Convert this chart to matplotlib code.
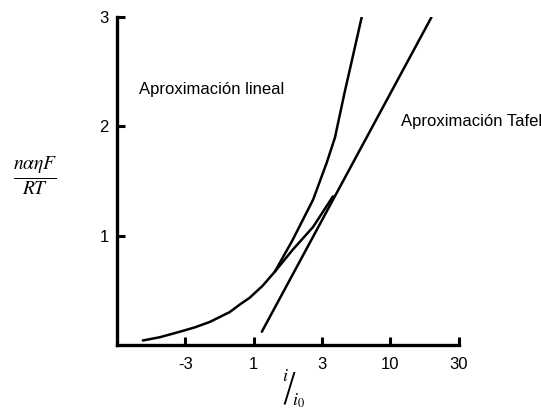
import numpy as np
import matplotlib.pyplot as plt
from matplotlib import rcParams

rcParams['font.family'] = 'Liberation Sans'
rcParams['mathtext.fontset'] = 'stix'

# x positions are the slots of the tick labels (0 = axis origin)
x_ticks = [1, 2, 3, 4, 5]
x_ticklabels = ['-3', '1', '3', '10', '30']
y_ticks = [1, 2, 3]

# shared low-overpotential part of the curve
common_x = [0.38, 0.63, 0.92, 1.14, 1.36, 1.65, 1.80, 1.94, 2.13, 2.31]
common_y = [0.04, 0.07, 0.12, 0.16, 0.21, 0.30, 0.37, 0.43, 0.54, 0.67]
# linear approximation branch
lineal_x = [2.31, 2.57, 2.87, 3.07, 3.19, 3.33, 3.45, 3.58]
lineal_y = [0.67, 0.96, 1.33, 1.67, 1.90, 2.31, 2.64, 3.00]
# full curve joining the Tafel line
bv_x = [2.31, 2.57, 2.87, 3.16]
bv_y = [0.67, 0.87, 1.08, 1.36]
# Tafel approximation
tafel_x = [2.12, 4.60]
tafel_y = [0.12, 3.00]

fig = plt.figure(figsize=(5.41, 4.12), dpi=100, facecolor='white')
ax = fig.add_axes([0.216, 0.163, 0.632, 0.795])

kw = dict(color='black', linewidth=1.8, solid_capstyle='round', solid_joinstyle='round')
ax.plot(common_x, common_y, **kw)
ax.plot(lineal_x, lineal_y, **kw)
ax.plot(bv_x, bv_y, **kw)
ax.plot(tafel_x, tafel_y, **kw)

ax.set_xlim(0, 5)
ax.set_ylim(0, 3)
ax.spines[['top', 'right']].set_visible(False)
ax.spines[['left', 'bottom']].set_linewidth(2.4)
ax.set_xticks(x_ticks)
ax.set_xticklabels(x_ticklabels)
ax.set_yticks(y_ticks)
ax.tick_params(direction='in', length=6, width=2.2, labelsize=12, pad=9)
ax.tick_params(axis='y', pad=6)

ax.text(0.33, 2.34, 'Aproximación lineal', fontsize=12, va='center')
ax.text(4.15, 2.05, 'Aproximación Tafel', fontsize=12, va='center', clip_on=False)

fig.text(0.064, 0.575, r'$\frac{n\alpha\eta F}{RT}$', fontsize=20, ha='center', va='center')

fig.text(0.527, 0.085, r'$i$', fontsize=13, ha='center', va='center')
fig.text(0.534, 0.055, '/', fontsize=28, ha='center', va='center', family='DejaVu Sans',
         fontweight='light')
fig.text(0.551, 0.026, r'$i_0$', fontsize=13, ha='center', va='center')

fig.savefig('out.png', dpi=100, facecolor='white')
